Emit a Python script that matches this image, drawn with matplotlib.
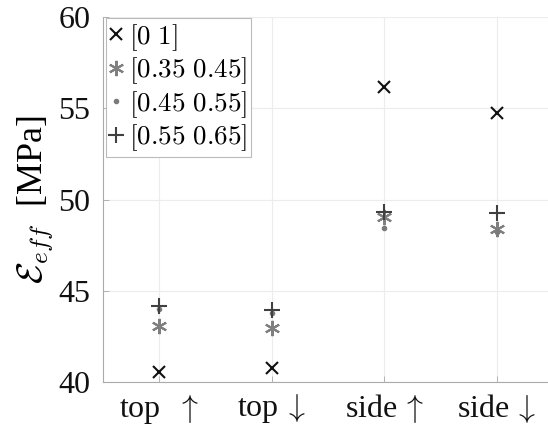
import matplotlib
matplotlib.use("Agg")
import matplotlib.pyplot as plt

plt.rcParams['mathtext.fontset'] = 'cm'
plt.rcParams['font.family'] = ['Liberation Serif', 'DejaVu Serif']

# data
cases = ['top $\\;\\uparrow$', 'top$\\,\\downarrow$', 'side$\\,\\uparrow$', 'side$\\,\\downarrow$']
x_pos = [1, 2, 3, 4]
range_0_1 = [40.55, 40.77, 56.18, 54.76]
range_035_045 = [43.1, 42.98, 49.06, 48.42]
range_045_055 = [44.0, 43.8, 48.45, 48.25]
range_055_065 = [44.2, 43.97, 49.33, 49.28]

fig = plt.figure(figsize=(5.48, 4.34), dpi=100)
ax = fig.add_axes([0.188, 0.119, 0.821, 0.842])

ax.plot(x_pos, range_0_1, linestyle='none', marker='x', markersize=8,
        markeredgewidth=1.5, color='#111111', label=r'$[0\ 1]$')
ax.plot(x_pos, range_035_045, linestyle='none', marker=(6, 2, 0), markersize=11,
        markeredgewidth=1.5, color='#7f7f7f', label=r'$[0.35\ 0.45]$')
ax.plot(x_pos, range_045_055, linestyle='none', marker='.', markersize=6,
        color='#7a7a7a', label=r'$[0.45\ 0.55]$')
ax.plot(x_pos, range_055_065, linestyle='none', marker='+', markersize=12,
        markeredgewidth=1.5, color='#404040', label=r'$[0.55\ 0.65]$')

ax.set_xlim(0.5, 4.5)
ax.set_ylim(40, 60)
ax.set_xticks(x_pos)
ax.set_xticklabels(cases)
ax.set_yticks([40, 45, 50, 55, 60])
ax.tick_params(direction='in', length=4, width=0.6, colors='#aaaaaa',
               labelcolor='#111111', labelsize=23)
ax.tick_params(axis='y', pad=9)
ax.tick_params(axis='x', pad=7)
ax.grid(True, color='#ececec', linewidth=0.8)
ax.set_axisbelow(True)
for s in ['top', 'right']:
    ax.spines[s].set_visible(False)
for s in ['left', 'bottom']:
    ax.spines[s].set_color('#aaaaaa')
    ax.spines[s].set_linewidth(0.8)

ax.set_ylabel(r'$\mathcal{E}_{eff}$  [MPa]', fontsize=26, labelpad=2)

leg = ax.legend(loc='upper left', bbox_to_anchor=(0.0, 1.005), fontsize=19.5,
                handlelength=0.45, handletextpad=0.25, borderpad=0.15,
                labelspacing=0.1, borderaxespad=0.1, fancybox=False,
                framealpha=1)
leg.get_frame().set_edgecolor('#bbbbbb')
leg.get_frame().set_linewidth(0.8)

fig.savefig('out.png', dpi=100)
